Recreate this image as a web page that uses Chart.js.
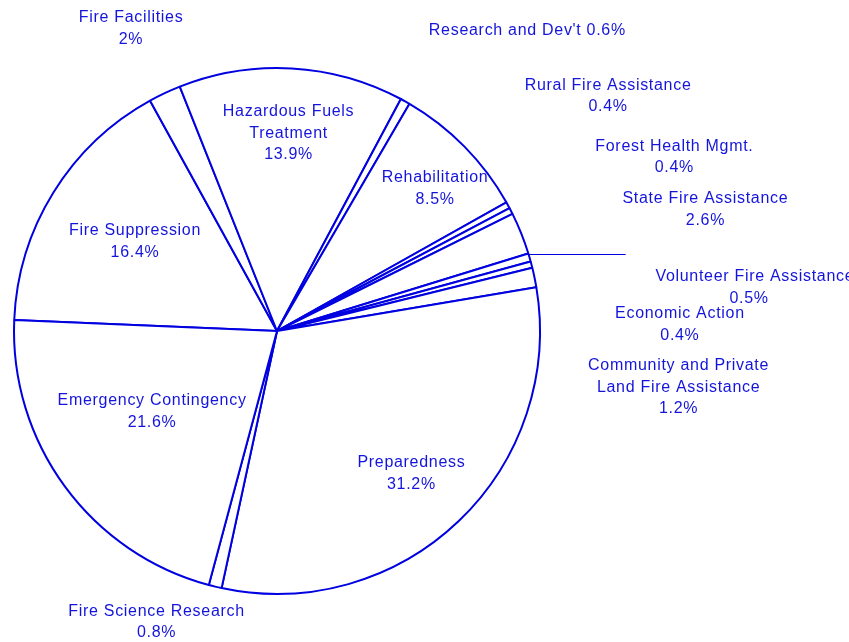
<!DOCTYPE html>
<html>
<head>
<meta charset="utf-8">
<script src="https://cdn.jsdelivr.net/npm/chart.js@4.4.1/dist/chart.umd.min.js"></script>
<style>
  html, body { margin: 0; padding: 0; background: #fff; }
  #wrap { width: 849px; height: 642px; position: relative; }
</style>
</head>
<body>
<div id="wrap"><canvas id="pie-chart"></canvas></div>
<script>
// Dados do grafico (ordem horaria, a partir de Fire Suppression)
const categories = [
  "Fire Suppression",
  "Fire Facilities",
  "Hazardous Fuels\nTreatment",
  "Research and Dev't",
  "Rehabilitation",
  "Rural Fire Assistance",
  "Forest Health Mgmt.",
  "State Fire Assistance",
  "Volunteer Fire Assistance",
  "Economic Action",
  "Community and Private\nLand Fire Assistance",
  "Preparedness",
  "Fire Science Research",
  "Emergency Contingency",
];
const shares = [16.4, 2, 13.9, 0.6, 8.5, 0.4, 0.4, 2.6, 0.5, 0.4, 1.2, 31.2, 0.8, 21.6];

// Posicao dos rotulos, em fracoes do raio a partir do centro
const labelLayout = [
  { fx: -0.54, fy: -0.38 },
  { fx: -0.555, fy: -1.19 },
  { fx: 0.044, fy: -0.833 },
  { fx: 0.952, fy: -1.141, inline: true },
  { fx: 0.601, fy: -0.582 },
  { fx: 1.259, fy: -0.935 },
  { fx: 1.511, fy: -0.703 },
  { fx: 1.629, fy: -0.502 },
  { fx: 1.817, fy: -0.205, pctShift: -0.022, leader: true },
  { fx: 1.532, fy: -0.065 },
  { fx: 1.527, fy: 0.133 },
  { fx: 0.511, fy: 0.502 },
  { fx: -0.458, fy: 1.065 },
  { fx: -0.475, fy: 0.266 },
];

const BLUE = "#0000e0";
const TEXT_BLUE = "#1414dc";

const labelPlugin = {
  id: "sliceLabels",
  afterDatasetsDraw(chart) {
    const { ctx } = chart;
    const arcs = chart.getDatasetMeta(0).data;
    ctx.save();
    ctx.font = "16px 'Liberation Sans', Arial, sans-serif";
    if ("letterSpacing" in ctx) ctx.letterSpacing = "0.7px";
    ctx.fillStyle = TEXT_BLUE;
    ctx.textAlign = "center";
    ctx.textBaseline = "middle";

    arcs.forEach((arc, i) => {
      const { x, y, outerRadius, startAngle } = arc.getProps(["x", "y", "outerRadius", "startAngle"], true);
      const lay = labelLayout[i];
      const lx = x + lay.fx * outerRadius;
      const ly = y + lay.fy * outerRadius;
      const pct = `${shares[i]}%`;
      if (lay.inline) {
        ctx.fillText(`${categories[i]} ${pct}`, lx, ly);
      } else {
        const names = categories[i].split("\n");
        names.forEach((t, k) => ctx.fillText(t, lx, ly + k * 21.5));
        ctx.fillText(pct, lx + (lay.pctShift || 0) * outerRadius, ly + names.length * 21.5);
      }

      // linha de chamada horizontal
      if (lay.leader) {
        const px = x + Math.cos(startAngle) * outerRadius;
        const py = y + Math.sin(startAngle) * outerRadius;
        ctx.strokeStyle = BLUE;
        ctx.lineWidth = 1;
        ctx.beginPath();
        ctx.moveTo(px, Math.round(py) + 0.5);
        ctx.lineTo(px + 0.37 * outerRadius, Math.round(py) + 0.5);
        ctx.stroke();
      }
    });
    ctx.restore();
  },
};

const ctx = document.getElementById("pie-chart").getContext("2d");

new Chart(ctx, {
  type: "pie",
  data: {
    labels: categories,
    datasets: [
      {
        data: shares,
        backgroundColor: "#ffffff",
        borderColor: BLUE,
        borderWidth: 2,
        hoverOffset: 0,
      },
    ],
  },
  options: {
    responsive: true,
    maintainAspectRatio: false,
    animation: false,
    rotation: 272.4,
    layout: {
      padding: { top: 67, bottom: 47, left: 13, right: 308 },
    },
    plugins: {
      legend: { display: false },
      tooltip: { enabled: false },
    },
  },
  plugins: [labelPlugin],
});
</script>
</body>
</html>
